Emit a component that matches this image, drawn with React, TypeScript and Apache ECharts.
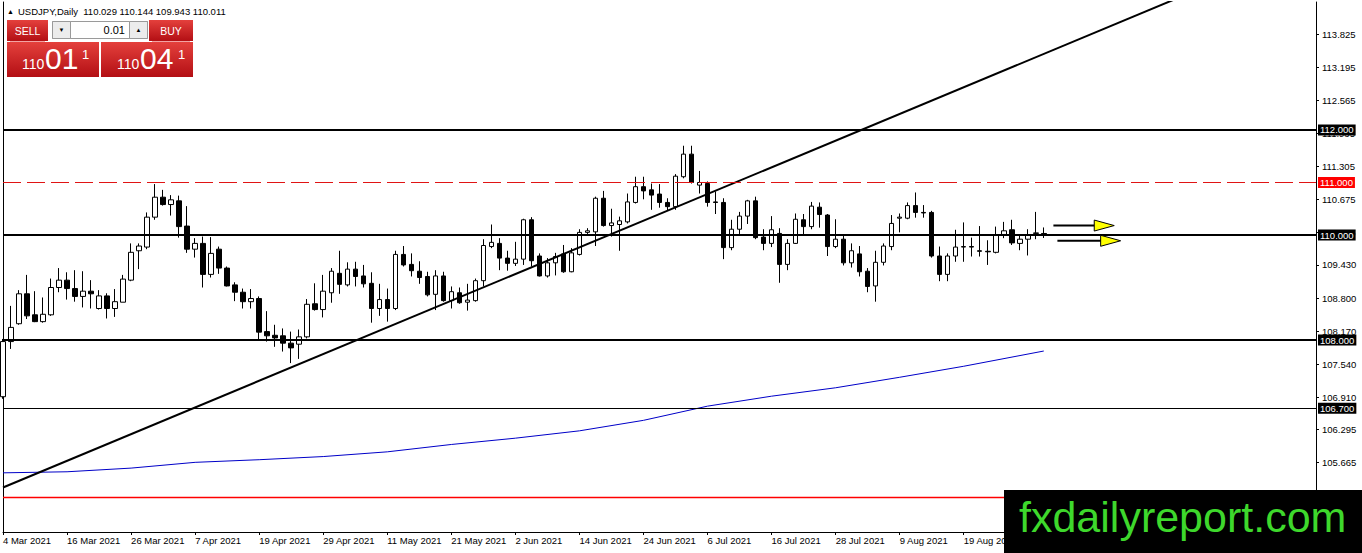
import React, { useEffect, useRef } from "react";
import * as echarts from "echarts";

// ---------- data ----------
const SYMBOL = "USDJPY";
const PERIOD = "Daily";
const LOT = "0.01";
const SPREAD = 0.03;
const WATERMARK = "fxdailyreport.com";

const dateLabels = [
  "4 Mar 2021", "16 Mar 2021", "26 Mar 2021", "7 Apr 2021", "19 Apr 2021",
  "29 Apr 2021", "11 May 2021", "21 May 2021", "2 Jun 2021", "14 Jun 2021",
  "24 Jun 2021", "6 Jul 2021", "16 Jul 2021", "28 Jul 2021", "9 Aug 2021",
  "19 Aug 2021",
];
const BARS_PER_LABEL = 8;
const SLOT_COUNT = 165;

const opens = [
  106.92, 107.97, 108.31, 108.88, 108.48, 108.35, 108.48, 109.0, 109.14, 108.98,
  108.83, 108.93, 108.6, 108.84, 108.6, 108.72, 109.14, 109.7, 109.77, 110.34,
  110.72, 110.58, 110.65, 110.17, 109.73, 109.84, 109.25, 109.73, 109.37, 109.05,
  108.91, 108.73, 108.79, 108.16, 108.09, 108.08, 107.94, 107.92, 108.06, 108.69,
  108.58, 108.9, 109.27, 109.05, 109.35, 109.22, 109.08, 108.6, 108.77, 108.6,
  109.63, 109.44, 109.31, 109.21, 108.87, 109.22, 108.75, 108.9, 108.72, 108.75,
  109.13, 109.78, 109.84, 109.56, 109.46, 109.54, 110.29, 109.6, 109.22, 109.47,
  109.64, 109.3, 109.63, 110.05, 110.06, 110.7, 110.18, 110.2, 110.25, 110.62,
  110.92, 110.86, 110.78, 110.62, 110.54, 111.11, 111.54, 110.95, 110.98, 110.63,
  110.62, 109.76, 110.11, 110.36, 110.65, 109.96, 109.84, 110.03, 109.44, 109.84,
  110.29, 110.16, 110.53, 110.38, 109.78, 109.92, 109.47, 109.64, 109.31, 109.03,
  109.48, 109.78, 110.32, 110.32, 110.56, 110.43, 110.43, 109.6, 109.25, 109.6,
  109.77, 109.78, 109.7, 109.69, 109.67, 110.01, 110.1, 109.84, 109.92, 110.03,
  110.029,
];
const highs = [
  108.02, 108.65, 108.95, 109.24, 108.93, 108.81, 109.17, 109.37, 109.29, 109.33,
  109.31, 109.14, 108.95, 108.89, 108.97, 109.24, 109.84, 109.84, 110.43, 110.97,
  110.86, 110.76, 110.75, 110.55, 109.94, 109.97, 109.96, 109.78, 109.4, 109.1,
  108.98, 108.97, 108.83, 108.55, 108.29, 108.22, 108.16, 108.2, 108.78, 109.08,
  109.24, 109.37, 109.7, 109.48, 109.49, 109.43, 109.29, 109.07, 108.98, 109.7,
  109.79, 109.65, 109.5, 109.3, 109.33, 109.3, 109.02, 109.0, 109.07, 109.17,
  109.92, 110.2, 109.94, 109.7, 109.87, 110.31, 110.34, 109.65, 109.56, 109.66,
  109.81, 109.75, 110.11, 110.13, 110.73, 110.84, 110.5, 110.35, 110.79, 111.11,
  111.11, 110.98, 110.97, 110.7, 111.16, 111.7, 111.7, 111.22, 111.02, 110.83,
  110.7, 110.29, 110.44, 110.67, 110.73, 110.11, 110.36, 110.13, 109.92, 110.41,
  110.4, 110.63, 110.62, 110.4, 110.3, 109.99, 109.84, 109.79, 109.37, 109.7,
  109.84, 110.38, 110.41, 110.62, 110.81, 110.57, 110.46, 109.78, 109.65, 110.1,
  110.24, 109.95, 110.17, 109.9, 110.16, 110.25, 110.29, 109.99, 110.11, 110.44,
  110.144,
];
const lows = [
  106.88, 107.83, 108.29, 108.4, 108.34, 108.33, 108.46, 108.91, 108.77, 108.73,
  108.62, 108.6, 108.58, 108.41, 108.44, 108.72, 109.12, 109.35, 109.73, 110.29,
  110.56, 110.37, 109.95, 109.66, 109.57, 109.0, 109.19, 109.26, 109.02, 108.74,
  108.6, 108.6, 108.0, 107.97, 107.87, 107.78, 107.56, 107.64, 108.03, 108.56,
  108.43, 108.71, 108.88, 109.02, 109.02, 109.0, 108.33, 108.46, 108.35, 108.57,
  109.4, 109.21, 109.07, 108.83, 108.57, 108.73, 108.6, 108.69, 108.56, 108.73,
  109.02, 109.75, 109.33, 109.32, 109.41, 109.43, 109.4, 109.21, 109.19, 109.23,
  109.28, 109.29, 109.61, 110.02, 109.79, 110.16, 109.97, 109.7, 110.22, 110.6,
  110.68, 110.48, 110.52, 110.46, 110.48, 111.08, 110.98, 110.79, 110.54, 110.4,
  109.54, 109.71, 110.02, 110.21, 109.92, 109.71, 109.77, 109.09, 109.33, 109.83,
  110.0, 110.11, 110.14, 109.6, 109.75, 109.42, 109.38, 109.21, 108.91, 108.73,
  109.42, 109.71, 110.05, 110.3, 110.33, 110.33, 109.57, 109.12, 109.12, 109.49,
  109.49, 109.59, 109.59, 109.43, 109.65, 109.94, 109.81, 109.71, 109.61, 109.92,
  109.943,
];
const closes = [
  107.97, 108.24, 108.88, 108.46, 108.35, 108.49, 109.0, 109.14, 108.98, 108.83,
  108.93, 108.88, 108.84, 108.6, 108.73, 109.16, 109.67, 109.79, 110.34, 110.72,
  110.58, 110.67, 110.16, 109.73, 109.84, 109.25, 109.65, 109.37, 109.03, 108.91,
  108.73, 108.79, 108.15, 108.08, 108.04, 107.94, 107.85, 108.06, 108.68, 108.58,
  108.93, 109.31, 109.06, 109.35, 109.21, 109.07, 108.6, 108.77, 108.6, 109.63,
  109.43, 109.32, 109.19, 108.86, 109.22, 108.75, 108.92, 108.71, 108.76, 109.13,
  109.8, 109.86, 109.56, 109.46, 109.54, 110.29, 109.51, 109.22, 109.47, 109.59,
  109.3, 109.66, 110.05, 110.08, 110.7, 110.18, 110.23, 110.27, 110.63, 110.92,
  110.84, 110.76, 110.62, 110.54, 111.12, 111.54, 111.0, 111.0, 110.62, 110.62,
  109.76, 110.11, 110.36, 110.65, 109.95, 109.84, 110.1, 109.44, 109.84, 110.3,
  110.16, 110.55, 110.39, 109.78, 109.92, 109.47, 109.7, 109.3, 109.02, 109.48,
  109.79, 110.22, 110.34, 110.56, 110.43, 110.42, 109.6, 109.25, 109.6, 109.77,
  109.78, 109.77, 109.69, 109.68, 110.0, 110.08, 109.85, 109.92, 110.0, 110.04,
  110.011,
];

const maBars = [0, 8, 16, 24, 32, 40, 48, 56, 64, 72, 80, 88, 96, 104, 112, 120, 130];
const maValues = [
  105.47, 105.49, 105.56, 105.67, 105.72, 105.78, 105.87, 106.01, 106.13, 106.27,
  106.47, 106.74, 106.93, 107.09, 107.29, 107.5, 107.79,
];

const trendBars = [0, 164];
const trendValues = [105.19, 115.61];

const priceTicks = [
  113.825, 113.195, 112.565, 111.935, 111.305, 110.675, 110.045, 109.43,
  108.8, 108.17, 107.54, 106.91, 106.295, 105.665,
];
const levelValues = [112, 111, 110, 108, 106.7];
const supportLevel = 105;

const arrowFromBars = [131.2, 131.7];
const arrowToBars = [138.8, 139.6];
const arrowPrices = [110.18, 109.89];

const Y_MIN = 104.343;
const Y_MAX = 114.438;

// ---------- component ----------
const FONT = "'Liberation Sans', Arial, sans-serif";

export default function App() {
  const ref = useRef<HTMLDivElement | null>(null);

  useEffect(() => {
    if (!ref.current) return;
    const chart = echarts.init(ref.current, undefined, { renderer: "svg" });

    const categories = Array.from({ length: SLOT_COUNT }, (_, i) => String(i));
    const candleData = opens.map((o, i) => [o, closes[i], lows[i], highs[i]]);
    const labelInterval = (index: number) =>
      index % BARS_PER_LABEL === 0 && index / BARS_PER_LABEL < dateLabels.length;

    const levelStyles = [
      { color: "#000", width: 2, type: "solid" as any, bg: "#000" },
      { color: "#e01414", width: 1, type: [18, 6] as any, bg: "#ff0000" },
      { color: "#000", width: 2, type: "solid" as any, bg: "#000" },
      { color: "#000", width: 2, type: "solid" as any, bg: "#000" },
      { color: "#000", width: 1, type: "solid" as any, bg: "#000" },
    ];

    const option: any = {
      animation: false,
      backgroundColor: "#ffffff",
      grid: { left: 3, right: 46, top: 2, bottom: 21, containLabel: false },
      xAxis: {
        type: "category",
        data: categories,
        boundaryGap: false,
        axisLine: { show: true, lineStyle: { color: "#000", width: 1 } },
        axisTick: { show: true, length: 3, interval: labelInterval, lineStyle: { color: "#000" } },
        axisLabel: {
          show: true,
          interval: labelInterval,
          formatter: (_v: string, idx: number) => dateLabels[idx / BARS_PER_LABEL] ?? "",
          align: "left",
          color: "#000",
          fontSize: 9.5,
          fontFamily: FONT,
          margin: 3,
        },
        splitLine: { show: false },
      },
      yAxis: [
        {
          type: "value",
          position: "right",
          min: Y_MIN,
          max: Y_MAX,
          axisLine: { show: true, lineStyle: { color: "#000", width: 1 } },
          axisTick: { show: true, length: 3, customValues: priceTicks, lineStyle: { color: "#000" } },
          axisLabel: {
            show: true,
            customValues: priceTicks,
            formatter: (v: number) => v.toFixed(3),
            color: "#000",
            fontSize: 9.5,
            fontFamily: FONT,
            margin: 6,
          },
          splitLine: { show: false },
        },
        {
          type: "value",
          position: "left",
          min: Y_MIN,
          max: Y_MAX,
          axisLine: { show: true, lineStyle: { color: "#000", width: 1 } },
          axisTick: { show: false },
          axisLabel: { show: false },
          splitLine: { show: false },
        },
      ],
      series: [
        {
          type: "line",
          data: [[0, supportLevel], [SLOT_COUNT - 1, supportLevel]],
          symbol: "none",
          z: 1,
          lineStyle: { color: "#ff0000", width: 1.5, opacity: 1 },
        },
        {
          type: "candlestick",
          data: candleData,
          barWidth: 5,
          z: 2,
          itemStyle: {
            color: "#ffffff",
            color0: "#000000",
            borderColor: "#000000",
            borderColor0: "#000000",
            borderWidth: 1,
          },
          markLine: {
            silent: true,
            symbol: ["none", "none"],
            data: levelValues.map((v, i) => ({
              yAxis: v,
              lineStyle: {
                color: levelStyles[i].color,
                width: levelStyles[i].width,
                type: levelStyles[i].type,
              },
              label: {
                show: true,
                position: "end",
                distance: 2,
                formatter: () => v.toFixed(3),
                color: "#fff",
                backgroundColor: levelStyles[i].bg,
                padding: [1, 2, 0, 2],
                fontSize: 9.5,
                fontFamily: FONT,
              },
            })),
          },
        },
        {
          type: "line",
          data: maBars.map((b, i) => [b, maValues[i]]),
          symbol: "none",
          z: 3,
          lineStyle: { color: "#0000c8", width: 1 },
        },
        {
          type: "line",
          data: trendBars.map((b, i) => [b, trendValues[i]]),
          symbol: "none",
          z: 4,
          lineStyle: { color: "#000", width: 2 },
        },
      ],
    };
    chart.setOption(option);

    // ---------- overlays ----------
    const Z = 100;
    const grad = () =>
      new echarts.graphic.LinearGradient(0, 0, 0, 1, [
        { offset: 0, color: "#e4403c" },
        { offset: 1, color: "#b30f14" },
      ]);
    const txt = (text: string, x: number, y: number, size: number, fill: string, align = "left") => ({
      type: "text",
      x,
      y,
      z: Z + 2,
      silent: true,
      style: {
        text,
        fontSize: size,
        fontFamily: FONT,
        fill,
        align,
        textAlign: align,
        verticalAlign: "middle",
        textVerticalAlign: "middle",
      },
    });
    const rect = (x: number, y: number, w: number, h: number, fill: any, stroke?: string) => ({
      type: "rect",
      z: Z,
      silent: true,
      shape: { x, y, width: w, height: h },
      style: { fill, stroke: stroke ?? "none", lineWidth: 1 },
    });

    const last = opens.length - 1;
    const header = `${SYMBOL},${PERIOD}  ${opens[last].toFixed(3)} ${highs[last].toFixed(3)} ${lows[last].toFixed(3)} ${closes[last].toFixed(3)}`;
    const bid = closes[last].toFixed(3);
    const ask = (closes[last] + SPREAD).toFixed(3);
    const parts = (s: string) => [s.slice(0, 3), s.slice(4, 6), s.slice(6)];
    const [bInt, bBig, bPip] = parts(bid);
    const [aInt, aBig, aPip] = parts(ask);

    const graphics: any[] = [
      txt("▲", 7, 11, 7, "#000"),
      txt(header, 18, 11, 9.5, "#000"),
      rect(7, 20, 41, 21, grad()),
      txt("SELL", 27.5, 31, 10.5, "#fff", "center"),
      rect(149, 20, 44, 21, grad()),
      txt("BUY", 171, 31, 10.5, "#fff", "center"),
      rect(52.5, 21.5, 95, 17, "#ffffff", "#9a9a9a"),
      rect(52.5, 21.5, 18, 17, "#ececec", "#9a9a9a"),
      rect(129.5, 21.5, 18, 17, "#ececec", "#9a9a9a"),
      txt("▼", 61.5, 30, 6, "#000", "center"),
      txt("▲", 138.5, 30, 6, "#000", "center"),
      txt(LOT, 125, 30, 11, "#000", "right"),
      rect(7, 42, 92, 35, grad()),
      rect(101, 42, 92, 35, grad()),
      {
        type: "line", z: Z + 1, silent: true,
        shape: { x1: 10, y1: 41.5, x2: 45, y2: 41.5 },
        style: { stroke: "#f2a3a3", lineWidth: 1 },
      },
      {
        type: "line", z: Z + 1, silent: true,
        shape: { x1: 152, y1: 41.5, x2: 190, y2: 41.5 },
        style: { stroke: "#f2a3a3", lineWidth: 1 },
      },
      txt(bInt, 22, 64, 14, "#fff"),
      txt(bBig, 45, 58, 30, "#fff"),
      txt(bPip, 82, 54.5, 13, "#fff"),
      txt(aInt, 117, 64, 14, "#fff"),
      txt(aBig, 140, 58, 30, "#fff"),
      txt(aPip, 178, 54.5, 13, "#fff"),
      rect(1004, 490, 358, 63, "#000"),
      txt(WATERMARK, 1019, 517, 43, "#3ed82c"),
    ];

    // arrows in data coordinates
    const pixelAt = (bar: number, price: number) => {
      const p0 = chart.convertToPixel({ xAxisIndex: 0, yAxisIndex: 0 }, [130, price]) as number[];
      const p1 = chart.convertToPixel({ xAxisIndex: 0, yAxisIndex: 0 }, [140, price]) as number[];
      const step = (p1[0] - p0[0]) / 10;
      return [p0[0] + (bar - 130) * step, p0[1]];
    };
    arrowPrices.forEach((price, i) => {
      const a = pixelAt(arrowFromBars[i], price);
      const b = pixelAt(arrowToBars[i], price);
      const headLen = 20;
      const hx = b[0] - headLen;
      graphics.push({
        type: "line", z: Z, silent: true,
        shape: { x1: a[0], y1: a[1], x2: hx + 1, y2: a[1] },
        style: { stroke: "#000", lineWidth: 2 },
      });
      graphics.push({
        type: "polygon", z: Z + 1, silent: true,
        shape: { points: [[hx, a[1] - 5.5], [b[0], a[1]], [hx, a[1] + 5.5]] },
        style: { fill: "#ffff00", stroke: "#000", lineWidth: 1 },
      });
    });

    chart.setOption({ graphic: { elements: graphics } });

    return () => chart.dispose();
  }, []);

  return (
    <div
      ref={ref}
      style={{ position: "absolute", left: 0, top: 0, width: 1362, height: 553, background: "#fff" }}
    />
  );
}
